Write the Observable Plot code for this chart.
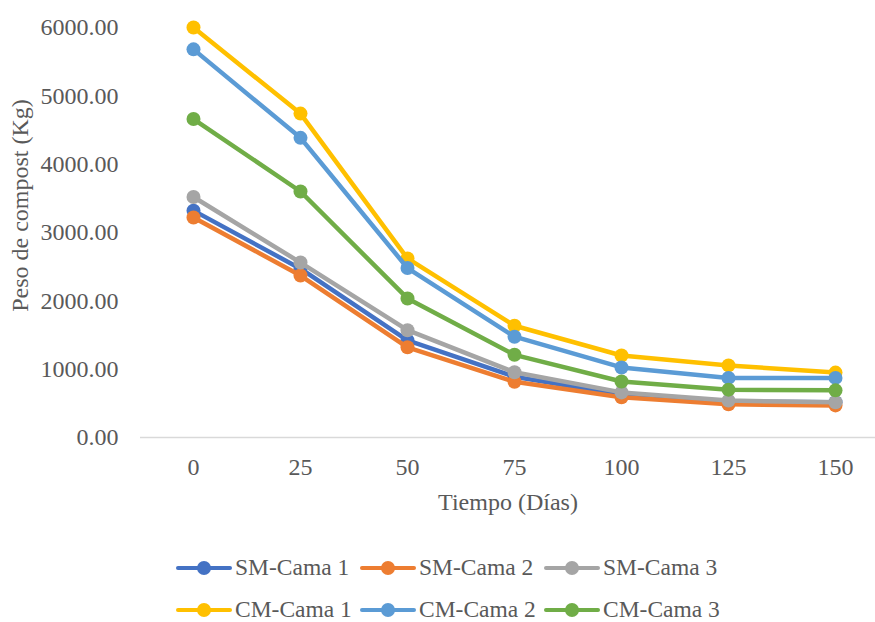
<!DOCTYPE html>
<html>
<head>
<meta charset="utf-8">
<script src="https://cdn.jsdelivr.net/npm/d3@7"></script>
<script src="https://cdn.jsdelivr.net/npm/@observablehq/plot@0.6"></script>
<style>
  html, body { margin: 0; padding: 0; background: #ffffff; }
  #chart { width: 875px; font-family: "Liberation Serif", "Times New Roman", serif; color: #595959; }
  .legend { display: grid; grid-template-columns: repeat(3, 184px); padding-left: 176px; margin-top: 17px; row-gap: 0; }
  .legend-item { display: flex; align-items: center; height: 42px; font-size: 23.5px; line-height: 1; white-space: nowrap; }
  .legend-item svg { margin-right: 3px; flex: none; }
</style>
</head>
<body>
<div id="chart"></div>
<script>
// Compost weight (kg) over time for beds without (SM) and with (CM) treatment
const days = [0, 25, 50, 75, 100, 125, 150];
const yTicks = [0, 1000, 2000, 3000, 4000, 5000, 6000];

const seriesNames = ["SM-Cama 1", "SM-Cama 2", "SM-Cama 3", "CM-Cama 1", "CM-Cama 2", "CM-Cama 3"];
const seriesColors = ["#4472C4", "#ED7D31", "#A5A5A5", "#FFC000", "#5B9BD5", "#70AD47"];

const smCama1 = [3320, 2470, 1420, 890, 630, 525, 515];
const smCama2 = [3220, 2370, 1320, 815, 590, 485, 470];
const smCama3 = [3520, 2560, 1570, 955, 660, 540, 515];
const cmCama1 = [6000, 4740, 2620, 1635, 1200, 1055, 950];
const cmCama2 = [5680, 4385, 2480, 1475, 1025, 872, 872];
const cmCama3 = [4660, 3600, 2035, 1210, 820, 700, 690];

const seriesValues = [smCama1, smCama2, smCama3, cmCama1, cmCama2, cmCama3];

const rows = seriesNames.flatMap((name, i) =>
  days.map((day, j) => ({series: name, day, weight: seriesValues[i][j]}))
);

const font = "'Liberation Serif', 'Times New Roman', serif";

// one line + markers per series, drawn in series order
const seriesMarks = seriesNames.flatMap((name) => {
  const data = rows.filter((d) => d.series === name);
  return [
    Plot.lineY(data, {x: "day", y: "weight", stroke: "series", strokeWidth: 4.5, strokeLinejoin: "round"}),
    Plot.dot(data, {x: "day", y: "weight", fill: "series", r: 7})
  ];
});

const chart = Plot.plot({
  width: 875,
  height: 530,
  marginLeft: 140,
  marginRight: 0,
  marginTop: 27,
  marginBottom: 93,
  style: {fontFamily: font, fontSize: "24px", color: "#595959", background: "#ffffff", overflow: "visible"},
  x: {type: "point", domain: days, range: [192, 835], padding: 0},
  y: {domain: [0, 6000]},
  color: {domain: seriesNames, range: seriesColors},
  marks: [
    Plot.ruleY([0], {stroke: "#d9d9d9", strokeWidth: 1.5}),
    Plot.axisY({ticks: yTicks, tickSize: 0, tickPadding: 22, tickFormat: d3.format(".2f"), label: null, fontSize: 24}),
    Plot.axisX({tickSize: 0, tickPadding: 20, label: null, fontSize: 24}),
    ...seriesMarks,
    Plot.text(["Tiempo (Días)"], {frameAnchor: "bottom", dy: 72, fontSize: 24, fill: "#595959"}),
    Plot.text(["Peso de compost (Kg)"], {frameAnchor: "left", textAnchor: "middle", dx: -120, dy: -27, rotate: -90, fontSize: 24, fill: "#595959"})
  ]
});

const root = document.getElementById("chart");
root.appendChild(chart);

// legend built from the same series names and colours
const legend = document.createElement("div");
legend.className = "legend";
seriesNames.forEach((name, i) => {
  const item = document.createElement("div");
  item.className = "legend-item";
  const c = seriesColors[i];
  item.innerHTML = `<svg width="56" height="16"><line x1="2" y1="8" x2="54" y2="8" stroke="${c}" stroke-width="4" stroke-linecap="round"/><circle cx="28" cy="8" r="7" fill="${c}"/></svg><span>${name}</span>`;
  legend.appendChild(item);
});
root.appendChild(legend);
</script>
</body>
</html>
